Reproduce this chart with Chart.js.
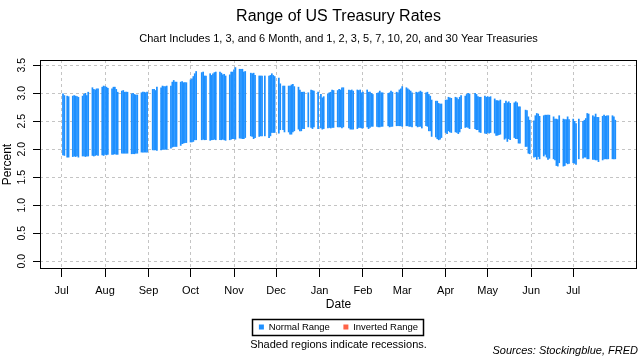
<!DOCTYPE html>
<html><head><meta charset="utf-8">
<script src="https://cdn.jsdelivr.net/npm/chart.js@4.4.1/dist/chart.umd.min.js"></script>
<style>html,body{margin:0;padding:0;background:#fff}canvas{display:block}</style>
</head><body>
<canvas id="c" width="640" height="360"></canvas>
<script>
// ---------- DATA ----------
const dates = [
 '2018-07-02','2018-07-03','2018-07-05','2018-07-06','2018-07-09','2018-07-10','2018-07-11','2018-07-12','2018-07-13','2018-07-16','2018-07-17','2018-07-18','2018-07-19','2018-07-20','2018-07-23','2018-07-24','2018-07-25','2018-07-26','2018-07-27','2018-07-30','2018-07-31',
 '2018-08-01','2018-08-02','2018-08-03','2018-08-06','2018-08-07','2018-08-08','2018-08-09','2018-08-10','2018-08-13','2018-08-14','2018-08-15','2018-08-16','2018-08-17','2018-08-20','2018-08-21','2018-08-22','2018-08-23','2018-08-24','2018-08-27','2018-08-28','2018-08-29','2018-08-30','2018-08-31',
 '2018-09-04','2018-09-05','2018-09-06','2018-09-07','2018-09-10','2018-09-11','2018-09-12','2018-09-13','2018-09-14','2018-09-17','2018-09-18','2018-09-19','2018-09-20','2018-09-21','2018-09-24','2018-09-25','2018-09-26','2018-09-27','2018-09-28',
 '2018-10-01','2018-10-02','2018-10-03','2018-10-04','2018-10-05','2018-10-09','2018-10-10','2018-10-11','2018-10-12','2018-10-15','2018-10-16','2018-10-17','2018-10-18','2018-10-19','2018-10-22','2018-10-23','2018-10-24','2018-10-25','2018-10-26','2018-10-29','2018-10-30','2018-10-31',
 '2018-11-01','2018-11-02','2018-11-05','2018-11-06','2018-11-07','2018-11-08','2018-11-09','2018-11-13','2018-11-14','2018-11-15','2018-11-16','2018-11-19','2018-11-20','2018-11-21','2018-11-23','2018-11-26','2018-11-27','2018-11-28','2018-11-29','2018-11-30',
 '2018-12-03','2018-12-04','2018-12-06','2018-12-07','2018-12-10','2018-12-11','2018-12-12','2018-12-13','2018-12-14','2018-12-17','2018-12-18','2018-12-19','2018-12-20','2018-12-21','2018-12-24','2018-12-26','2018-12-27','2018-12-28','2018-12-31',
 '2019-01-02','2019-01-03','2019-01-04','2019-01-07','2019-01-08','2019-01-09','2019-01-10','2019-01-11','2019-01-14','2019-01-15','2019-01-16','2019-01-17','2019-01-18','2019-01-22','2019-01-23','2019-01-24','2019-01-25','2019-01-28','2019-01-29','2019-01-30','2019-01-31',
 '2019-02-01','2019-02-04','2019-02-05','2019-02-06','2019-02-07','2019-02-08','2019-02-11','2019-02-12','2019-02-13','2019-02-14','2019-02-15','2019-02-19','2019-02-20','2019-02-21','2019-02-22','2019-02-25','2019-02-26','2019-02-27','2019-02-28',
 '2019-03-01','2019-03-04','2019-03-05','2019-03-06','2019-03-07','2019-03-08','2019-03-11','2019-03-12','2019-03-13','2019-03-14','2019-03-15','2019-03-18','2019-03-19','2019-03-20','2019-03-21','2019-03-22','2019-03-25','2019-03-26','2019-03-27','2019-03-28','2019-03-29',
 '2019-04-01','2019-04-02','2019-04-03','2019-04-04','2019-04-05','2019-04-08','2019-04-09','2019-04-10','2019-04-11','2019-04-12','2019-04-15','2019-04-16','2019-04-17','2019-04-18','2019-04-22','2019-04-23','2019-04-24','2019-04-25','2019-04-26','2019-04-29','2019-04-30',
 '2019-05-01','2019-05-02','2019-05-03','2019-05-06','2019-05-07','2019-05-08','2019-05-09','2019-05-10','2019-05-13','2019-05-14','2019-05-15','2019-05-16','2019-05-17','2019-05-20','2019-05-21','2019-05-22','2019-05-23','2019-05-24','2019-05-28','2019-05-29','2019-05-30','2019-05-31',
 '2019-06-03','2019-06-04','2019-06-05','2019-06-06','2019-06-07','2019-06-10','2019-06-11','2019-06-12','2019-06-13','2019-06-14','2019-06-17','2019-06-18','2019-06-19','2019-06-20','2019-06-21','2019-06-24','2019-06-25','2019-06-26','2019-06-27','2019-06-28',
 '2019-07-01','2019-07-02','2019-07-03','2019-07-05','2019-07-08','2019-07-09','2019-07-10','2019-07-11','2019-07-12','2019-07-15','2019-07-16','2019-07-17','2019-07-18','2019-07-19','2019-07-22','2019-07-23','2019-07-24','2019-07-25','2019-07-26','2019-07-29','2019-07-30','2019-07-31'
];
const highs = [
 2.99,2.96,2.95,2.94,2.95,2.96,2.95,2.94,2.93,2.95,2.98,3.00,2.96,3.02,3.10,3.07,3.06,3.08,3.08,3.11,3.13,
 3.12,3.11,3.09,3.08,3.11,3.11,3.07,3.02,3.04,3.05,3.02,3.02,3.02,2.99,3.00,2.98,2.97,2.97,3.01,3.02,3.02,3.01,3.02,
 3.07,3.07,3.05,3.11,3.10,3.13,3.12,3.12,3.13,3.13,3.20,3.23,3.20,3.20,3.20,3.21,3.19,3.19,3.19,
 3.24,3.26,3.30,3.35,3.39,3.37,3.38,3.31,3.31,3.35,3.32,3.35,3.37,3.38,3.38,3.36,3.33,3.34,3.31,3.33,3.38,3.38,
 3.42,3.46,3.43,3.43,3.43,3.38,3.39,3.36,3.35,3.36,3.32,3.31,3.31,3.31,3.31,3.31,3.32,3.35,3.32,3.30,
 3.27,3.17,3.13,3.13,3.13,3.13,3.15,3.16,3.12,3.11,3.06,3.02,3.02,3.02,3.01,3.06,3.05,3.04,3.02,
 2.98,2.92,2.94,2.99,3.01,3.02,3.06,3.05,3.05,3.07,3.06,3.10,3.10,3.06,3.05,3.06,3.04,3.06,3.05,3.06,3.01,
 3.02,3.06,3.02,3.02,3.00,2.98,3.00,3.01,3.04,3.01,3.01,3.00,3.01,3.04,3.02,3.02,3.01,3.06,3.08,
 3.12,3.10,3.08,3.06,3.04,3.01,3.02,3.01,3.02,3.04,3.02,3.01,3.02,2.98,2.95,2.88,2.86,2.86,2.82,2.81,2.81,
 2.88,2.88,2.93,2.92,2.91,2.93,2.92,2.89,2.93,2.96,2.95,2.98,3.00,2.99,3.00,2.98,2.94,2.93,2.93,2.95,2.93,
 2.94,2.93,2.94,2.90,2.87,2.87,2.86,2.88,2.82,2.86,2.83,2.85,2.82,2.83,2.85,2.83,2.76,2.76,2.70,2.69,2.58,2.52,
 2.51,2.60,2.64,2.63,2.59,2.60,2.61,2.61,2.61,2.61,2.58,2.54,2.54,2.53,2.60,2.54,2.53,2.53,2.58,2.53,
 2.54,2.50,2.46,2.54,2.50,2.52,2.55,2.64,2.63,2.60,2.58,2.63,2.57,2.57,2.59,2.61,2.59,2.60,2.60,2.60,2.58,2.52
];
const lows = [
 1.90,1.89,1.86,1.86,1.87,1.88,1.87,1.88,1.86,1.88,1.88,1.87,1.88,1.88,1.89,1.88,1.89,1.90,1.89,1.90,1.89,
 1.91,1.90,1.91,1.91,1.91,1.92,1.91,1.91,1.93,1.93,1.93,1.93,1.93,1.92,1.92,1.92,1.93,1.93,1.95,1.95,1.95,1.95,1.95,
 1.99,1.99,1.99,1.98,1.99,2.00,2.00,2.00,2.00,2.02,2.04,2.05,2.05,2.05,2.07,2.10,2.11,2.12,2.12,
 2.13,2.13,2.14,2.17,2.17,2.17,2.18,2.17,2.17,2.16,2.17,2.17,2.18,2.17,2.17,2.17,2.18,2.17,2.16,2.17,2.18,2.19,
 2.19,2.18,2.20,2.20,2.19,2.19,2.21,2.24,2.23,2.19,2.21,2.23,2.24,2.24,2.24,2.21,2.24,2.30,2.30,2.30,
 2.29,2.35,2.35,2.31,2.31,2.27,2.27,2.31,2.33,2.36,2.33,2.33,2.37,2.37,2.40,2.39,2.37,2.40,2.37,
 2.38,2.36,2.37,2.38,2.39,2.38,2.39,2.39,2.40,2.40,2.40,2.38,2.40,2.38,2.36,2.36,2.36,2.37,2.39,2.39,2.38,
 2.38,2.40,2.37,2.39,2.41,2.41,2.41,2.40,2.40,2.41,2.41,2.42,2.40,2.41,2.41,2.42,2.42,2.42,2.42,
 2.41,2.42,2.42,2.41,2.41,2.40,2.42,2.40,2.41,2.41,2.38,2.42,2.41,2.33,2.33,2.23,2.22,2.19,2.17,2.18,2.21,
 2.30,2.28,2.33,2.31,2.30,2.31,2.30,2.28,2.31,2.37,2.39,2.40,2.39,2.37,2.37,2.35,2.35,2.31,2.30,2.29,2.28,
 2.30,2.29,2.30,2.29,2.25,2.25,2.26,2.27,2.18,2.20,2.14,2.19,2.17,2.21,2.19,2.19,2.11,2.11,2.05,2.05,1.93,1.92,
 1.86,1.87,1.82,1.87,1.83,1.88,1.91,1.86,1.82,1.84,1.83,1.81,1.71,1.70,1.76,1.70,1.71,1.76,1.74,1.75,
 1.76,1.75,1.73,1.83,1.84,1.86,1.86,1.83,1.83,1.82,1.82,1.81,1.81,1.78,1.81,1.83,1.83,1.83,1.83,1.83,1.83,1.83
];
const monthTickDates = ['2018-07-01','2018-08-01','2018-09-01','2018-10-01','2018-11-01','2018-12-01','2019-01-01','2019-02-01','2019-03-01','2019-04-01','2019-05-01','2019-06-01','2019-07-01'];
const monthTickLabels = ['Jul','Aug','Sep','Oct','Nov','Dec','Jan','Feb','Mar','Apr','May','Jun','Jul'];
const yTicks = [0, 0.5, 1, 1.5, 2, 2.5, 3, 3.5];
const seriesNames = ['Normal Range', 'Inverted Range'];
const invertedDates = [];   // no inverted ranges in this period
const invertedHighs = [];
const invertedLows = [];

// ---------- helpers ----------
const DAY0 = Date.UTC(2018, 6, 1);
function dayNum(s) { const p = s.split('-').map(Number); return (Date.UTC(p[0], p[1] - 1, p[2]) - DAY0) / 864e5; }
const normalData = dates.map((d, i) => ({ x: dayNum(d), y: [lows[i], highs[i]] }));
const invertedData = invertedDates.map((d, i) => ({ x: dayNum(d), y: [invertedLows[i], invertedHighs[i]] }));
const monthTickDays = monthTickDates.map(dayNum);

const FONT = '"Liberation Sans", Arial, sans-serif';
Chart.defaults.font.family = FONT;
Chart.defaults.color = '#000';

const GRID = '#c4c4c4';

const decor = {
  id: 'decor',
  afterLayout(chart) {
    const ca = chart.chartArea;
    chart.boxes.forEach(b => {
      if (b.position === 'top' && !b.axis) { b.left = ca.left; b.right = ca.right; b.width = ca.right - ca.left; }
    });
    const lg = chart.legend;
    if (lg) { lg.left = ca.left; lg.right = ca.right; lg.width = ca.right - ca.left; }
  },
  afterDraw(chart) {
    const ctx = chart.ctx, ca = chart.chartArea, ys = chart.scales.y;
    ctx.save();
    ctx.setLineDash([]);
    ctx.strokeStyle = '#000';
    ctx.lineWidth = 1;
    ctx.strokeRect(Math.round(ca.left) + 0.5, Math.round(ca.top) + 0.5, Math.round(ca.right - ca.left) - 1, Math.round(ca.bottom - ca.top) - 1);
    // rotated y tick labels
    ctx.fillStyle = '#000';
    ctx.font = '10.5px ' + FONT;
    ctx.textAlign = 'center';
    ctx.textBaseline = 'middle';
    ys.ticks.forEach(t => {
      const y = ys.getPixelForValue(t.value);
      ctx.save(); ctx.translate(22, y); ctx.rotate(-Math.PI / 2);
      ctx.fillText(t.value.toFixed(1), 0, 0); ctx.restore();
    });
    // y axis title
    ctx.font = '12px ' + FONT;
    ctx.save(); ctx.translate(8, (ca.top + ca.bottom) / 2); ctx.rotate(-Math.PI / 2);
    ctx.fillText('Percent', 0, 0); ctx.restore();
    // legend border
    const hb = chart.legend && chart.legend.legendHitBoxes;
    if (hb && hb.length) {
      const l = hb[0].left - 7, r = hb[hb.length - 1].left + hb[hb.length - 1].width + 5;
      const cy = hb[0].top + hb[0].height / 2;
      ctx.lineWidth = 1.5;
      ctx.strokeRect(Math.round(l) + 0.5, Math.round(cy - 8) + 0.5, Math.round(r - l), 16);
    }
    // footer notes
    ctx.font = '11px ' + FONT;
    ctx.textAlign = 'center';
    ctx.fillText('Shaded regions indicate recessions.', (ca.left + ca.right) / 2, 345);
    ctx.font = 'italic 11px ' + FONT;
    ctx.textAlign = 'right';
    ctx.fillText('Sources: Stockingblue, FRED', 638, 351);
    ctx.restore();
  }
};

new Chart(document.getElementById('c'), {
  type: 'bar',
  data: {
    datasets: [
      { label: seriesNames[0], data: normalData, backgroundColor: '#1E90FF', borderWidth: 0, barThickness: 1.05, grouped: false },
      { label: seriesNames[1], data: invertedData, backgroundColor: '#FF6347', borderWidth: 0, barThickness: 1.05, grouped: false }
    ]
  },
  options: {
    responsive: false,
    animation: false,
    devicePixelRatio: 1,
    layout: { padding: { left: 0, right: 3, top: 0, bottom: 18.25 } },
    plugins: {
      title: { display: true, text: 'Range of US Treasury Rates', font: { size: 16, weight: 'normal' }, color: '#000', padding: { top: 7, bottom: 3 } },
      subtitle: { display: true, text: 'Chart Includes 1, 3, and 6 Month, and 1, 2, 3, 5, 7, 10, 20, and 30 Year Treasuries', font: { size: 11 }, color: '#000', padding: { top: 3, bottom: 14.6 } },
      legend: { display: true, position: 'bottom', labels: { boxWidth: 5, boxHeight: 5, padding: 13.5, font: { size: 9.5 }, color: '#000' } },
      tooltip: { enabled: false }
    },
    scales: {
      x: {
        type: 'linear',
        offset: false,
        min: -15.4, max: 410.5,
        afterBuildTicks: s => { s.ticks = monthTickDays.map(v => ({ value: v })); },
        afterFit: s => { s.height = 39.75; },
        ticks: { autoSkip: false, maxRotation: 0, minRotation: 0, padding: 7.4, font: { size: 11 }, color: '#000',
                 callback: (v, i) => monthTickLabels[i] },
        grid: { offset: false, color: GRID, lineWidth: 1, drawTicks: true, tickLength: 8, tickColor: '#000', tickWidth: 1, tickBorderDash: [] },
        border: { display: false, dash: [3, 3] },
        title: { display: true, text: 'Date', font: { size: 12 }, color: '#000', padding: { top: 0, bottom: -3.45 } }
      },
      y: {
        type: 'linear',
        min: -0.1375, max: 3.595,
        afterBuildTicks: s => { s.ticks = yTicks.map(v => ({ value: v })); },
        afterFit: s => { s.width = 40; },
        ticks: { display: false },
        grid: { color: GRID, lineWidth: 1, drawTicks: true, tickLength: 7, tickColor: '#000', tickWidth: 1, tickBorderDash: [] },
        border: { display: false, dash: [3, 3] }
      }
    }
  },
  plugins: [decor]
});
</script>
</body></html>
